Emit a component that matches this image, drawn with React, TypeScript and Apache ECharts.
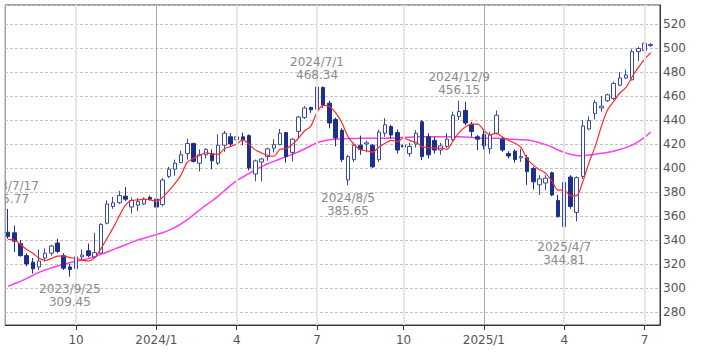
import React, { useEffect, useRef } from 'react';
import * as echarts from 'echarts';

// ---------- data ----------
const START_DATE = Date.UTC(2023, 6, 17); // first weekly candle (Monday)
const WEEK_COUNT = 106; // 105 candles + one empty slot on the right

const pad = (n: number) => (n < 10 ? '0' + n : '' + n);
const categories: string[] = Array.from({ length: WEEK_COUNT }, (_, i) => {
  const d = new Date(START_DATE + i * 7 * 86400000);
  return `${d.getUTCFullYear()}-${pad(d.getUTCMonth() + 1)}-${pad(d.getUTCDate())}`;
});

const opens = [
  346.5, 346, 337, 327, 321.5, 317.5, 325, 329, 337.5, 327,
  317.5, 316, 326, 331, 326, 329, 354, 368, 371, 376.5,
  367.5, 369, 370, 375.5, 374, 369.5, 393, 399, 404.5, 412,
  420.5, 404, 411, 412, 404, 419, 426, 423.5, 426, 427,
  395, 405, 409.5, 416.5, 419.5, 429.5, 413, 430.5, 442, 450.5,
  449, 467, 454, 440.5, 431.5, 390, 407, 419, 420, 419,
  407, 429, 434.5, 429.5, 419, 412, 420, 438.5, 426, 423,
  415, 418, 423.5, 443, 448, 436.5, 426, 428, 416, 429,
  424, 412, 414, 408.5, 408.5, 399.5, 386, 387.5, 396, 373,
  351, 392.5, 363, 393, 432.5, 445.5, 450, 456, 458, 469,
  475, 473.5, 497, 498, 502,
];
const closes = [
  343, 339, 327, 320, 316, 322.5, 329, 335, 330.5, 316.5,
  315.5, 326, 327.5, 327, 329.5, 353, 370, 371, 377, 374,
  373, 372, 374, 374, 367.5, 390, 399, 404, 411, 420.5,
  405.5, 411, 415.5, 406, 419, 429, 420, 426, 423.5, 400,
  406, 407.5, 416, 419.5, 429, 409.5, 424, 442.5, 450, 448.5,
  467.5, 452.5, 437.5, 425, 407, 409.5, 419, 415.5, 421, 401,
  430, 436, 427.5, 415, 417.5, 418, 429, 409.5, 411, 415,
  418.5, 424, 444, 447, 437.5, 430.5, 424, 418.5, 427.5, 444,
  415, 410, 407, 409.5, 397, 388.5, 391, 391.5, 377.5, 359.5,
  388, 368, 392, 435, 439.5, 454.5, 451.5, 461, 470.5, 475,
  477.5, 497, 499.5, 504, 503,
];
const lows = [
  341, 330, 326, 318, 312, 315, 322, 327, 329, 315,
  309.45, 311, 323, 325.5, 325, 328, 353, 366, 370, 372.5,
  362, 364, 369, 373, 366.5, 368, 391.5, 393.5, 404, 407,
  404.5, 397, 408, 399, 402.5, 413.5, 418, 419, 419, 398,
  389, 389, 406, 413, 419, 404.5, 405.5, 425, 441, 446,
  448, 450, 433, 418, 405, 385.65, 405, 411, 413, 400,
  405, 426, 424.5, 412, 409.5, 409.5, 417, 406.5, 408, 412,
  411, 416.5, 422, 440, 435.8, 426, 415, 415.5, 411.7, 428,
  413.5, 408, 404.5, 405, 386, 382, 377.5, 381.5, 376.5, 358.5,
  344.81, 366, 355.5, 391, 431.5, 440.5, 447, 455, 456.5, 468,
  474, 473, 489, 494, 501,
];
const highs = [
  365.77, 352, 340, 329, 325, 332, 333, 336, 341, 329,
  320, 331, 332, 337, 346, 354, 373, 376, 381, 384,
  375.5, 375, 375.5, 377, 375.5, 391.5, 401, 407, 414.5, 424.5,
  421, 415.5, 416.5, 415.5, 428, 431, 429, 430, 429.5, 428,
  407, 408.5, 417, 424, 432.5, 430, 425, 443.5, 451.5, 451,
  468.34, 468, 456, 442, 433, 411, 420.5, 427, 423, 420,
  432, 441.5, 436, 432, 422, 421, 431.5, 440, 429, 426,
  421, 429, 447, 456.15, 455, 438.5, 427.5, 432, 430, 448,
  426, 414, 415.5, 416, 411, 401, 394, 394, 397, 377.5,
  393, 394, 393, 440, 443, 456.7, 460, 462, 472, 480,
  482, 499, 501, 507, 504,
];
// short moving average (red)
const maShort = [
  340.5, 340, 336.5, 332, 329, 324.9, 322.9, 324.5, 326.6, 326.7,
  325.3, 324.7, 323.2, 322.5, 325.1, 332.6, 341.4, 350.1, 360.1, 369,
  373, 373.4, 374, 373.4, 372.1, 375.5, 380.9, 386.9, 394.3, 404.9,
  408, 410.4, 412.7, 411.7, 411.4, 416.1, 417.9, 420, 423.5, 419.7,
  415.1, 412.6, 410.6, 409.8, 415.6, 416.3, 419.6, 424.9, 431, 434.9,
  446.5, 452.2, 451.2, 446.2, 437.9, 426.3, 419.6, 415.2, 414.4, 413.2,
  417.3, 420.7, 423.1, 421.9, 425.2, 422.8, 421.4, 417.8, 417, 416.5,
  416.6, 415.6, 422.5, 429.7, 434.2, 436.6, 436.6, 431.5, 427.6, 428.9,
  425.8, 423, 420.7, 417.1, 407.7, 402.4, 398.6, 395.5, 389.1, 381.6,
  381.5, 376.9, 377, 388.5, 404.5, 417.8, 434.5, 448.3, 455.4, 462.5,
  467.1, 476.2, 483.9, 490.6, 496.2,
];
// long moving average (magenta)
const maLong = [
  301.5, 303.5, 305.5, 308, 310.5, 313, 315, 316.8, 318.3, 319.7,
  321, 322.2, 323.3, 324.5, 326, 328, 330, 332, 334, 336,
  338, 340, 341.5, 343, 344.5, 346, 348, 350.5, 353.5, 357,
  361, 365, 369, 372.5, 376.5, 381, 385.5, 389.5, 392.5, 395.5,
  398.5, 401, 403.5, 405.5, 407.5, 409.5, 411.5, 413.5, 416, 418.5,
  421, 422.5, 423.5, 424, 424.3, 424.5, 424.6, 424.7, 424.7, 424.7,
  424.7, 424.8, 425, 425.2, 425.5, 425.7, 426, 426.1, 426.1, 426.1,
  426.1, 426.1, 426, 426, 425.8, 425.5, 425, 424.7, 424.7, 424.7,
  424.5, 424.2, 423.9, 423.6, 423.3, 422.5, 421, 419.5, 417.5, 415,
  413, 411.5, 410.5, 410.3, 410.8, 411.5, 412.3, 413, 414, 415.5,
  417, 419, 422, 425.5, 430,
];

const tickDates = ['2023-10-02', '2024-01-01', '2024-04-01', '2024-07-01', '2024-10-07', '2025-01-06', '2025-04-07', '2025-07-07'];
const tickLabels = ['10', '2024/1', '4', '7', '10', '2025/1', '4', '7'];

const annotDates = ['2023-07-17', '2023-09-25', '2024-07-01', '2024-08-05', '2024-12-09', '2025-04-07'];
const annotLabels = ['2023/7/17', '2023/9/25', '2024/7/1', '2024/8/5', '2024/12/9', '2025/4/7'];
const annotValues = [365.77, 309.45, 468.34, 385.65, 456.15, 344.81];
const annotSides = ['top', 'bottom', 'top', 'bottom', 'top', 'bottom'];

// ---------- chart ----------
const FONT = '"DejaVu Sans", Verdana, sans-serif';

function buildOption() {
  const tickSet = new Set(tickDates);
  const labelOf = new Map(tickDates.map((d, i) => [d, tickLabels[i]] as [string, string]));
  const candles = opens.map((o, i) => [o, closes[i], lows[i], highs[i]]);

  return {
    animation: false,
    backgroundColor: '#ffffff',
    grid: {
      left: 5, right: 49, top: 5, bottom: 29,
      show: true, borderColor: '#444', borderWidth: 1, backgroundColor: 'transparent',
    },
    xAxis: {
      type: 'category',
      data: categories,
      boundaryGap: true,
      axisLine: { show: true, lineStyle: { color: '#333', width: 1 } },
      axisTick: {
        show: true, alignWithLabel: true, length: 5,
        interval: (_i: number, v: string) => tickSet.has(v),
        lineStyle: { color: '#333' },
      },
      axisLabel: {
        interval: (_i: number, v: string) => tickSet.has(v),
        formatter: (v: string) => labelOf.get(v) ?? '',
        color: '#555', fontSize: 12, fontFamily: FONT, margin: 9,
      },
      splitLine: { show: false },
    },
    yAxis: {
      type: 'value',
      position: 'right',
      min: 269.17,
      max: 535.83,
      splitNumber: 13,
      axisLine: { show: true, lineStyle: { color: '#333' } },
      axisTick: { show: false },
      axisLabel: {
        color: '#555', fontSize: 12, fontFamily: FONT, margin: 3,
        formatter: (v: number) => (Math.abs(v - Math.round(v / 20) * 20) < 1e-6 ? String(Math.round(v)) : ''),
      },
      splitLine: { show: true, lineStyle: { color: '#c2c2c2', type: [3, 2], width: 1 } },
    },
    graphic: [
      { type: 'rect', left: 0, top: 0, z: 100, shape: { width: 4.5, height: 354 }, style: { fill: '#ffffff' } },
    ],
    series: [
      {
        type: 'line',
        name: 'MA long',
        data: maLong,
        symbol: 'none',
        smooth: 0.3,
        silent: true,
        z: 1,
        lineStyle: { color: '#ff3cf2', width: 1.5 },
        markLine: {
          silent: true,
          symbol: ['none', 'none'],
          label: { show: false },
          animation: false,
          data: tickDates.map((d, i) => {
            const yearStart = tickLabels[i].includes('/');
            return {
              xAxis: d,
              lineStyle: { color: yearStart ? '#aaaaaa' : '#e6e6e6', width: yearStart ? 1 : 2, type: 'solid' },
            };
          }),
        },
      },
      {
        type: 'candlestick',
        name: 'price',
        data: candles,
        barWidth: 4,
        z: 2,
        itemStyle: {
          color: '#ffffff',
          color0: '#1d2f8c',
          borderColor: '#3a49a2',
          borderColor0: '#1d2f8c',
          borderWidth: 1,
        },
        markPoint: {
          symbol: 'circle',
          symbolSize: 0,
          silent: true,
          animation: false,
          itemStyle: { color: 'transparent' },
          label: { show: true, color: '#8a8a8a', fontSize: 12, fontFamily: FONT, lineHeight: 13, align: 'center' },
          data: annotDates.map((d, i) => ({
            coord: [d, annotValues[i]],
            value: annotValues[i],
            label: {
              position: annotSides[i],
              distance: annotSides[i] === 'top' ? 4 : 6,
              formatter: `${annotLabels[i]}\n${annotValues[i].toFixed(2)}`,
            },
          })),
        },
      },
      {
        type: 'line',
        name: 'MA short',
        data: maShort,
        symbol: 'none',
        smooth: 0.3,
        silent: true,
        z: 3,
        lineStyle: { color: '#ff2a2a', width: 1.2 },
      },
    ],
  };
}

export default function App() {
  const ref = useRef<HTMLDivElement>(null);
  useEffect(() => {
    if (!ref.current) return;
    const chart = echarts.init(ref.current, null, { renderer: 'svg' });
    chart.setOption(buildOption() as any);
    return () => chart.dispose();
  }, []);
  return (
    <div
      ref={ref}
      style={{ position: 'absolute', left: 0, top: 0, width: 709, height: 354, background: '#fff' }}
    />
  );
}
